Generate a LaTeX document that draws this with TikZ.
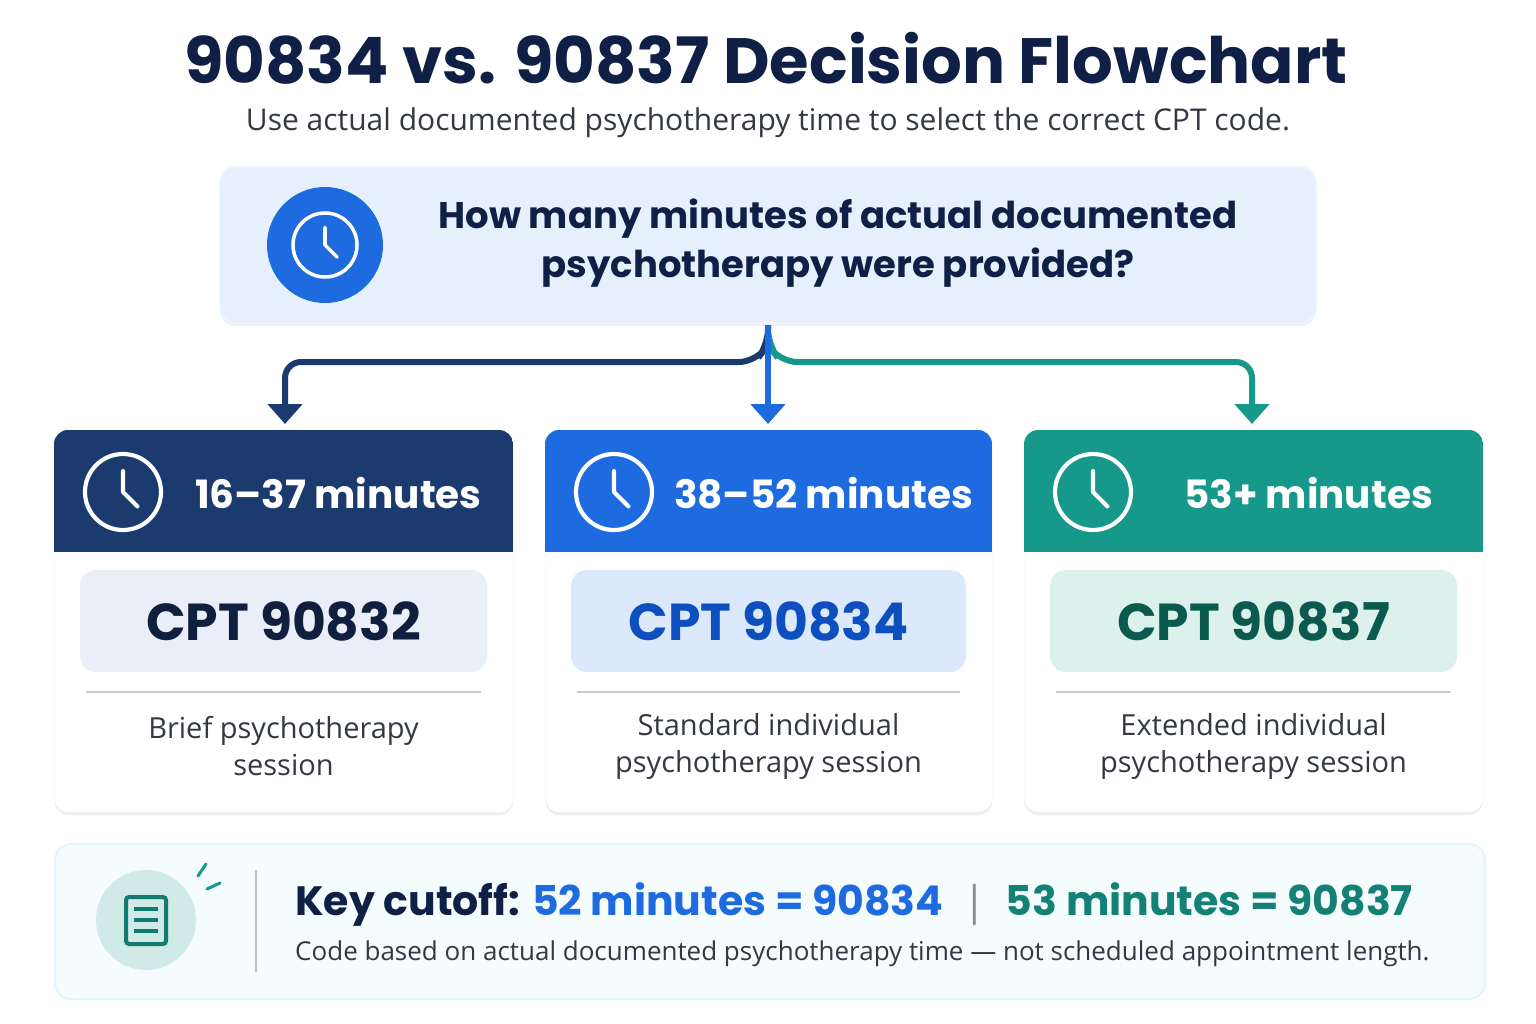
\documentclass[tikz,border=0pt]{standalone}
\usepackage{fontspec}
\setmainfont{Open Sans}
\newfontfamily\hd{Poppins}[UprightFont=*-Bold]
\usetikzlibrary{arrows.meta,shadows,calc}
\definecolor{navy}{HTML}{0F1F45}
\definecolor{hdA}{HTML}{1B3A6E}
\definecolor{hdB}{HTML}{1E6BE0}
\definecolor{hdC}{HTML}{16988A}
\definecolor{txt}{HTML}{333842}
\definecolor{qbg}{HTML}{E6F0FC}
\tikzset{
 card/.style={fill=white,rounded corners=14pt,drop shadow={opacity=0.12,shadow xshift=0pt,shadow yshift=-3pt}},
 htxt/.style={text=white,font=\hd\fontsize{39}{44}\selectfont,anchor=center},
 code/.style={font=\hd\fontsize{52}{58}\selectfont,anchor=center},
 desc/.style={text=txt,font=\fontsize{29}{37}\selectfont,align=center,anchor=center},
 conn/.style={line width=6pt,-{Triangle[length=20pt,width=34pt]}}
}
\newcommand{\clockicon}[3]{%
 \draw[#3,line width=0.11*#2pt] (#1) circle (#2pt);
 \draw[#3,line width=0.11*#2pt,line cap=round,line join=round] ($(#1)+(0,-0.55*#2)$) -- (#1) -- ($(#1)+(0.38*#2,0.38*#2)$);}
\begin{document}
\begin{tikzpicture}[x=1pt,y=-1pt]
\useasboundingbox (0,0) rectangle (1536,1024);
\fill[white] (0,0) rectangle (1536,1024);
\node[text=navy,font=\hd\fontsize{64}{68}\selectfont] (title) at (766,58) {90834 vs. 90837 Decision Flowchart};
\node[text=txt,font=\fontsize{30}{34}\selectfont] (sub) at (768,123) {Use actual documented psychotherapy time to select the correct CPT code.};
% question
\node[card,fill=qbg,draw=qbg!70!white,line width=2pt,minimum width=1096pt,minimum height=156pt,rounded corners=16pt] (q) at (768,245) {};
\fill[hdB] (325,245) circle (58pt);
\clockicon{325,245}{32}{white}
\node[text=navy,font=\hd\fontsize{37}{49}\selectfont,align=center] (qt) at (838,243) {How many minutes of actual documented\\psychotherapy were provided?};
% connectors
\coordinate (s) at (768,325);
\coordinate (aA) at (285,424);
\coordinate (aB) at (768,424);
\coordinate (aC) at (1252,424);
\draw[conn,hdA,rounded corners=16pt] (s) -- (768,345) -- (755,362) -- (285,362) -- (aA);
\draw[conn,hdC,rounded corners=16pt] (s) -- (768,345) -- (781,362) -- (1252,362) -- (aC);
\draw[conn,hdB] (s) -- (aB);
% cards
\foreach \x/\w/\c/\bf/\tc/\rng/\code/\da/\db [count=\i] in
 {54/459/hdA/E9EEF8/0F1F3D/16–37 minutes/CPT 90832/Brief psychotherapy/session,
  545/447/hdB/DCE9FC/0D4FBF/38–52 minutes/CPT 90834/Standard individual/psychotherapy session,
  1024/459/hdC/DDF1EC/0B5A50/53+ minutes/CPT 90837/Extended individual/psychotherapy session}{
 \definecolor{bx}{HTML}{\bf}\definecolor{tx}{HTML}{\tc}
 \node[card,minimum width=\w pt,minimum height=382pt,anchor=north west,draw=black!6] (card\i) at (\x,430) {};
 \begin{scope}
 \clip[rounded corners=14pt] (\x,430) rectangle (\x+\w,812);
 \fill[\c] (\x,430) rectangle (\x+\w,552);
 \end{scope}
 \clockicon{\x+69,492}{38}{white}
 \node[htxt] (h\i) at (\x+\w/2+55,493) {\rng};
 \node[fill=bx,rounded corners=16pt,minimum width=\w pt-52pt,minimum height=102pt] (cb\i) at (\x+\w/2,621) {};
 \node[code,text=tx] (c\i) at (\x+\w/2,621) {\code};
 \draw[black!20,line width=1.5pt] (\x+32,692) -- (\x+\w-32,692);
 \node[desc] (d\i) at (\x+\w/2,746) {\da\\\db};
}
% bottom
\node[fill=cyan!4!white,draw=cyan!12!white,line width=2pt,rounded corners=16pt,minimum width=1430pt,minimum height=155pt,anchor=north west] (kb) at (54,843) {};
\fill[hdC!20!white] (146,920) circle (50pt);
\draw[hdC!80!black,line width=4pt,rounded corners=3pt] (126,897) rectangle (166,944);
\foreach \yy in {909,920,931}{\draw[hdC!80!black,line width=3.5pt] (134,\yy) -- (158,\yy);}
\draw[hdC,line width=3pt,line cap=round] (198,876) -- (206,864);
\draw[hdC,line width=3pt,line cap=round] (207,889) -- (220,883);
\draw[black!25,line width=2pt] (256,870) -- (256,972);
\node[anchor=west,font=\hd\fontsize{41}{46}\selectfont,inner sep=0pt] (kt) at (295,905) {\textcolor{navy}{Key cutoff:}\hspace{12pt}\textcolor{hdB}{52 minutes = 90834}\hspace{20pt}\textcolor{black!45}{\fontspec{Open Sans}|}\hspace{20pt}\textcolor{hdC!85!black}{53 minutes = 90837}};
\node[anchor=west,text=txt,font=\fontsize{26}{30}\selectfont,inner sep=0pt] (kn) at (295,954) {Code based on actual documented psychotherapy time — not scheduled appointment length.};
\end{tikzpicture}
\end{document}
